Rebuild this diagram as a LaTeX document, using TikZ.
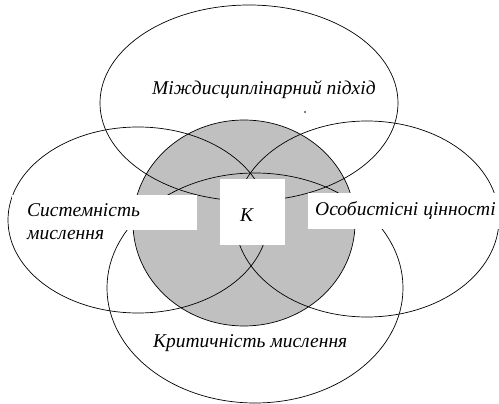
\documentclass[tikz,border=0pt]{standalone}
\usepackage{fontspec}
\setmainfont{Liberation Serif}
\definecolor{coregrey}{RGB}{192,192,192}
\begin{document}
\begin{tikzpicture}[x=1pt,y=-1pt,
  ring/.style={draw=black,line width=0.7pt},
  mask/.style={fill=white,draw=none},
  lbl/.style={font=\fontsize{19.5}{23}\selectfont\itshape,inner sep=0pt,anchor=base west}]
\useasboundingbox (0,0) rectangle (499,404);
% grey core
\filldraw[ring,fill=coregrey] (244,223) ellipse [x radius=111pt, y radius=103pt];
% four ellipses
\draw[ring] (249,103) ellipse [x radius=149pt, y radius=98pt];
\draw[ring] (138,220) ellipse [x radius=130pt, y radius=93pt];
\draw[ring] (367,219) ellipse [x radius=132pt, y radius=98pt];
\draw[ring] (255,288) ellipse [x radius=148pt, y radius=115pt];
% white label boxes
\fill[mask] (12,195) rectangle (197,230);
\fill[mask] (308,193) rectangle (499,229);
\fill[mask] (220,179) rectangle (285,245);
% stray dot
\fill (305,112) circle [radius=0.8pt];
% labels
\node[lbl] (top) at (152,95) {Міждисциплінарний підхід};
\node[lbl] (left1) at (27,217) {Системність};
\node[lbl] (left2) at (27,240) {мислення};
\node[lbl] (right) at (315,215) {Особистісні цінності};
\node[lbl] (core) at (240,222) {К};
\node[lbl] (bottom) at (153,347) {Критичність мислення};
\end{tikzpicture}
\end{document}
